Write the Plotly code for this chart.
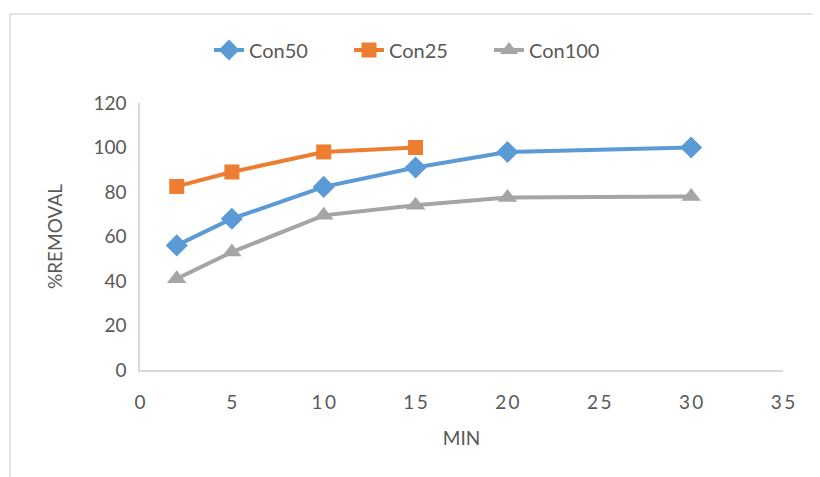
import plotly.graph_objects as go

minutes_50 = [2, 5, 10, 15, 20, 30]
con50 = [56, 68, 82.3, 91, 98, 100]
minutes_25 = [2, 5, 10, 15]
con25 = [82.5, 89, 98, 100]
minutes_100 = [2, 5, 10, 15, 20, 30]
con100 = [41, 53, 69.5, 74, 77.5, 78]

x_ticks = [0, 5, 10, 15, 20, 25, 30, 35]
x_tick_labels = ["0", "5", "1\u20090", "1\u20095", "2\u20090", "2\u20095", "3\u20090", "3\u20095"]
y_ticks = [0, 20, 40, 60, 80, 100, 120]

# page body has an 8px default margin; compensate
OFF = 8
W, H = 820 - OFF, 477 - OFF
L, R, T, B = 140 - OFF, 37, 103 - OFF, 107
pw, ph = W - L - R, H - T - B

font = "Lato, Open Sans, sans-serif"
txt = "#595959"

fig = go.Figure()
fig.add_trace(go.Scatter(x=minutes_50, y=con50, name="Con50", mode="lines+markers",
                         line=dict(color="#5B9BD5", width=4),
                         marker=dict(symbol="diamond", size=17, color="#5B9BD5")))
fig.add_trace(go.Scatter(x=minutes_25, y=con25, name="Con25", mode="lines+markers",
                         line=dict(color="#ED7D31", width=4),
                         marker=dict(symbol="square", size=15, color="#ED7D31")))
fig.add_trace(go.Scatter(x=minutes_100, y=con100, name="Con100", mode="lines+markers",
                         line=dict(color="#A5A5A5", width=4),
                         marker=dict(symbol="triangle-up", size=17, color="#A5A5A5")))

def px(x):
    return (x - OFF - L) / pw

def py(y):
    return (H - B - (y - OFF)) / ph

fig.add_shape(type="rect", xref="paper", yref="paper",
              x0=px(10), x1=px(840), y0=py(500), y1=py(14),
              line=dict(color="#D9D9D9", width=1.5), layer="below")

fig.update_layout(
    width=W, height=H,
    margin=dict(l=L, r=R, t=T, b=B),
    paper_bgcolor="white", plot_bgcolor="white",
    font=dict(family=font, color=txt, size=19),
    legend=dict(orientation="h", x=px(209), y=py(50), xanchor="left", yanchor="middle",
                font=dict(size=20, color=txt), traceorder="normal",
                entrywidth=95, entrywidthmode="pixels"),
    xaxis=dict(range=[0, 35], tickvals=x_ticks, ticktext=x_tick_labels,
               showgrid=False, zeroline=False, showline=True, linecolor="#D9D9D9", linewidth=1.5,
               ticks="", tickfont=dict(size=19, color=txt), ticklabelstandoff=14,
               title=dict(text="MIN", font=dict(size=19, color=txt), standoff=20)),
    yaxis=dict(range=[0, 120], tickvals=y_ticks,
               showgrid=False, zeroline=False, showline=True, linecolor="#D9D9D9", linewidth=1.5,
               ticks="", tickfont=dict(size=19, color=txt), ticklabelstandoff=8,
               title=dict(text="%REMOVAL", font=dict(size=19, color=txt), standoff=26)),
)

fig.write_html("out.html")
